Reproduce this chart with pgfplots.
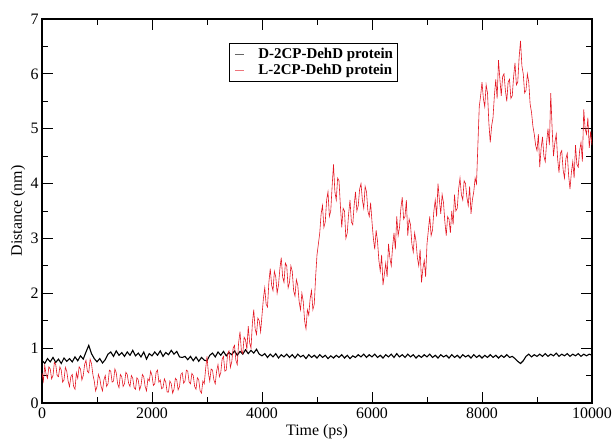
\documentclass[border=0pt]{standalone}
\usepackage{fontspec}
\setmainfont{Liberation Serif}
\usepackage{pgfplots}
\pgfplotsset{compat=1.18}
\usepackage{pgfplotstable}
\usetikzlibrary{calc}
\definecolor{dcol}{RGB}{0,0,0}
\definecolor{lcol}{RGB}{228,24,36}

% D-2CP-DehD distance, every 50 ps
\pgfplotstableread{
t d
0 0.78
50 0.72
100 0.81
150 0.75
200 0.83
250 0.74
300 0.80
350 0.72
400 0.82
450 0.76
500 0.81
550 0.75
600 0.84
650 0.77
700 0.86
750 0.80
800 0.93
850 1.05
900 0.90
950 0.81
1000 0.75
1050 0.81
1100 0.73
1150 0.79
1200 0.89
1250 0.93
1300 0.85
1350 0.95
1400 0.87
1450 0.92
1500 0.85
1550 0.93
1600 0.87
1650 0.96
1700 0.86
1750 0.91
1800 0.84
1850 0.93
1900 0.80
1950 0.90
2000 0.86
2050 0.93
2100 0.87
2150 0.95
2200 0.85
2250 0.92
2300 0.88
2350 0.96
2400 0.89
2450 0.94
2500 0.84
2550 0.83
2600 0.85
2650 0.79
2700 0.85
2750 0.77
2800 0.84
2850 0.76
2900 0.83
2950 0.78
3000 0.77
3050 0.87
3100 0.91
3150 0.84
3200 0.93
3250 0.87
3300 0.94
3350 0.86
3400 0.92
3450 0.88
3500 0.95
3550 0.87
3600 0.94
3650 0.89
3700 0.97
3750 0.90
3800 0.96
3850 0.91
3900 0.98
3950 0.89
4000 0.86
4050 0.90
4100 0.83
4150 0.89
4200 0.84
4250 0.90
4300 0.82
4350 0.88
4400 0.84
4450 0.89
4500 0.83
4550 0.88
4600 0.82
4650 0.89
4700 0.84
4750 0.87
4800 0.81
4850 0.88
4900 0.83
4950 0.87
5000 0.82
5050 0.88
5100 0.83
5150 0.87
5200 0.81
5250 0.86
5300 0.82
5350 0.87
5400 0.83
5450 0.88
5500 0.82
5550 0.87
5600 0.81
5650 0.86
5700 0.83
5750 0.88
5800 0.84
5850 0.89
5900 0.83
5950 0.88
6000 0.84
6050 0.89
6100 0.83
6150 0.87
6200 0.82
6250 0.88
6300 0.84
6350 0.89
6400 0.83
6450 0.90
6500 0.84
6550 0.88
6600 0.83
6650 0.89
6700 0.84
6750 0.88
6800 0.82
6850 0.87
6900 0.83
6950 0.88
7000 0.84
7050 0.89
7100 0.83
7150 0.87
7200 0.82
7250 0.88
7300 0.84
7350 0.87
7400 0.82
7450 0.88
7500 0.83
7550 0.87
7600 0.82
7650 0.88
7700 0.84
7750 0.87
7800 0.82
7850 0.88
7900 0.83
7950 0.87
8000 0.82
8050 0.87
8100 0.83
8150 0.88
8200 0.83
8250 0.87
8300 0.82
8350 0.87
8400 0.83
8450 0.88
8500 0.83
8550 0.85
8600 0.81
8650 0.76
8700 0.72
8750 0.77
8800 0.85
8850 0.89
8900 0.84
8950 0.88
9000 0.85
9050 0.89
9100 0.85
9150 0.90
9200 0.85
9250 0.89
9300 0.86
9350 0.91
9400 0.85
9450 0.89
9500 0.86
9550 0.90
9600 0.85
9650 0.89
9700 0.86
9750 0.90
9800 0.85
9850 0.89
9900 0.86
9950 0.89
10000 0.87
}\dtable

\begin{document}
\begin{tikzpicture}
\begin{axis}[
  name=ax,
  scale only axis,
  width=550bp, height=384bp,
  xmin=0, xmax=10000, ymin=0, ymax=7,
  xtick={0,2000,4000,6000,8000,10000},
  ytick={0,1,2,3,4,5,6,7},
  minor x tick num=1, minor y tick num=1,
  tick align=inside,
  major tick length=11bp, minor tick length=6bp,
  every tick/.style={black, line width=0.8pt},
  axis line style={line width=2.4pt},
  /pgf/number format/assume math mode=true,
  /pgf/number format/1000 sep={},
  scaled x ticks=false,
  tick label style={font=\fontsize{16}{16}\selectfont},
  xticklabel style={yshift=-1bp},
  xlabel={Time (ps)},
  ylabel={Distance (nm)},
  label style={font=\fontsize{16}{16}\selectfont},
  xlabel style={at={(rel axis cs:0.5,0)}, anchor=center, yshift=-29bp},
  ylabel style={at={(rel axis cs:0,0.5)}, anchor=center, yshift=24bp},
  legend style={at={(0.34,0.9375)}, anchor=north west, draw=black, line width=0.6pt,
    font=\fontsize{15}{16}\selectfont\bfseries, inner xsep=2bp, inner ysep=3bp,
    row sep=0bp},
  legend cell align=left,
  legend image code/.code={\path (0bp,0bp) (24bp,0bp);
    \draw[#1, line width=0.5pt, opacity=0.6] (3bp,0bp) -- (12bp,0bp);},
]
\addplot[color=dcol, line width=1.1pt] table[x=t, y=d] {\dtable};
\addlegendentry{D-2CP-DehD protein}
% L-2CP-DehD distance, every 25 ps
\addplot[color=lcol, line width=0.6pt] coordinates {
(0,0.55) (25,0.40) (50,0.68) (75,0.52) (100,0.45) (125,0.66) (150,0.62) (175,0.44) (200,0.50) (225,0.74)
(250,0.70) (275,0.50) (300,0.48) (325,0.66) (350,0.60) (375,0.38) (400,0.42) (425,0.65) (450,0.58) (475,0.40)
(500,0.30) (525,0.48) (550,0.52) (575,0.30) (600,0.25) (625,0.55) (650,0.45) (675,0.66) (700,0.62) (725,0.42)
(750,0.50) (775,0.70) (800,0.78) (825,0.58) (850,0.55) (875,0.80) (900,0.72) (925,0.52) (950,0.40) (975,0.22)
(1000,0.30) (1025,0.52) (1050,0.45) (1075,0.30) (1100,0.22) (1125,0.42) (1150,0.50) (1175,0.30) (1200,0.35) (1225,0.60)
(1250,0.58) (1275,0.38) (1300,0.40) (1325,0.62) (1350,0.55) (1375,0.35) (1400,0.28) (1425,0.52) (1450,0.48) (1475,0.30)
(1500,0.35) (1525,0.56) (1550,0.52) (1575,0.36) (1600,0.30) (1625,0.50) (1650,0.45) (1675,0.28) (1700,0.25) (1725,0.46)
(1750,0.42) (1775,0.24) (1800,0.32) (1825,0.52) (1850,0.48) (1875,0.30) (1900,0.22) (1925,0.44) (1950,0.40) (1975,0.58)
(2000,0.50) (2025,0.32) (2050,0.35) (2075,0.56) (2100,0.60) (2125,0.38) (2150,0.42) (2175,0.26) (2200,0.28) (2225,0.44)
(2250,0.38) (2275,0.20) (2300,0.20) (2325,0.40) (2350,0.35) (2375,0.18) (2400,0.25) (2425,0.45) (2450,0.42) (2475,0.24)
(2500,0.30) (2525,0.52) (2550,0.55) (2575,0.36) (2600,0.40) (2625,0.60) (2650,0.58) (2675,0.38) (2700,0.35) (2725,0.54)
(2750,0.50) (2775,0.30) (2800,0.25) (2825,0.46) (2850,0.42) (2875,0.22) (2900,0.18) (2925,0.40) (2950,0.35) (2975,0.62)
(3000,0.85) (3025,0.55) (3050,0.40) (3075,0.62) (3100,0.60) (3125,0.42) (3150,0.35) (3175,0.58) (3200,0.70) (3225,0.48)
(3250,0.55) (3275,0.80) (3300,0.85) (3325,0.58) (3350,0.60) (3375,0.90) (3400,0.95) (3425,0.65) (3450,0.75) (3475,1.00)
(3500,1.05) (3525,0.78) (3550,0.70) (3575,1.10) (3600,1.30) (3625,0.95) (3650,0.90) (3675,1.20) (3700,1.15) (3725,0.98)
(3750,1.40) (3775,1.10) (3800,1.00) (3825,1.45) (3850,1.70) (3875,1.35) (3900,1.25) (3925,1.55) (3950,1.50) (3975,1.30)
(4000,1.60) (4025,1.90) (4050,2.10) (4075,1.80) (4100,1.75) (4125,2.20) (4150,2.45) (4175,2.15) (4200,2.05) (4225,2.40)
(4250,2.30) (4275,2.00) (4300,2.15) (4325,2.45) (4350,2.65) (4375,2.30) (4400,2.20) (4425,2.55) (4450,2.50) (4475,2.10)
(4500,2.20) (4525,2.50) (4550,2.40) (4575,2.05) (4600,1.95) (4625,2.25) (4650,2.15) (4675,1.85) (4700,1.70) (4725,2.00)
(4750,1.85) (4775,1.50) (4800,1.35) (4825,1.70) (4850,1.60) (4875,1.90) (4900,2.05) (4925,1.70) (4950,1.80) (4975,2.30)
(5000,2.70) (5025,2.90) (5050,3.10) (5075,3.45) (5100,3.60) (5125,3.20) (5150,3.30) (5175,3.70) (5200,3.85) (5225,3.40)
(5250,3.50) (5275,3.95) (5300,4.35) (5325,3.85) (5350,3.70) (5375,4.10) (5400,4.05) (5425,3.60) (5450,3.20) (5475,3.55)
(5500,3.50) (5525,3.00) (5550,3.10) (5575,3.45) (5600,3.70) (5625,3.30) (5650,3.25) (5675,3.60) (5700,3.85) (5725,3.50)
(5750,3.60) (5775,3.90) (5800,4.00) (5825,3.70) (5850,3.55) (5875,3.95) (5900,3.85) (5925,3.50) (5950,3.40) (5975,3.65)
(6000,3.30) (6025,3.00) (6050,2.80) (6075,3.15) (6100,2.95) (6125,2.60) (6150,2.40) (6175,2.70) (6200,2.15) (6225,2.35)
(6250,2.55) (6275,2.30) (6300,2.90) (6325,2.65) (6350,2.50) (6375,2.85) (6400,3.10) (6425,2.80) (6450,3.40) (6475,3.05)
(6500,3.20) (6525,3.55) (6550,3.75) (6575,3.35) (6600,3.40) (6625,3.70) (6650,3.05) (6675,3.35) (6700,3.25) (6725,2.90)
(6750,2.75) (6775,3.10) (6800,2.95) (6825,2.65) (6850,2.50) (6875,2.80) (6900,2.20) (6925,2.45) (6950,2.60) (6975,2.30)
(7000,2.90) (7025,3.15) (7050,3.40) (7075,3.05) (7100,3.15) (7125,3.50) (7150,3.70) (7175,3.40) (7200,4.00) (7225,3.70)
(7250,3.45) (7275,3.80) (7300,3.65) (7325,3.30) (7350,3.05) (7375,3.40) (7400,3.35) (7425,3.10) (7450,3.50) (7475,3.25)
(7500,3.80) (7525,3.50) (7550,3.55) (7575,3.90) (7600,4.10) (7625,3.80) (7650,3.70) (7675,4.05) (7700,4.00) (7725,3.75)
(7750,3.60) (7775,3.95) (7800,3.45) (7825,3.70) (7850,3.85) (7875,4.10) (7900,4.00) (7925,4.70) (7950,5.40) (7975,5.60)
(8000,5.85) (8025,5.55) (8050,5.40) (8075,5.80) (8100,5.65) (8125,5.10) (8150,4.75) (8175,5.05) (8200,5.20) (8225,5.60)
(8250,5.90) (8275,5.55) (8300,6.25) (8325,5.90) (8350,5.60) (8375,5.95) (8400,6.00) (8425,5.70) (8450,5.50) (8475,5.85)
(8500,5.90) (8525,5.55) (8550,5.60) (8575,5.95) (8600,6.20) (8625,5.80) (8650,5.85) (8675,6.30) (8700,6.60) (8725,6.15)
(8750,6.00) (8775,5.65) (8800,5.70) (8825,6.00) (8850,5.85) (8875,5.45) (8900,5.30) (8925,5.05) (8950,4.90) (8975,4.70)
(9000,4.60) (9025,4.90) (9050,4.30) (9075,4.65) (9100,4.85) (9125,4.50) (9150,4.40) (9175,4.75) (9200,5.00) (9225,4.70)
(9250,5.65) (9275,5.00) (9300,4.50) (9325,4.75) (9350,4.90) (9375,4.45) (9400,4.20) (9425,4.55) (9450,4.60) (9475,4.25)
(9500,4.10) (9525,4.45) (9550,4.55) (9575,4.15) (9600,3.90) (9625,4.20) (9650,4.40) (9675,4.10) (9700,4.70) (9725,4.35)
(9750,4.30) (9775,4.60) (9800,4.75) (9825,4.40) (9850,5.35) (9875,5.00) (9900,4.90) (9925,5.20) (9950,4.65) (9975,4.95)
(10000,4.70)
};
\addlegendentry{L-2CP-DehD protein}
\end{axis}
\pgfresetboundingbox
\path ($(ax.south west)+(-42bp,-37bp)$) rectangle ($(ax.north east)+(20bp,19bp)$);
\end{tikzpicture}
\end{document}
